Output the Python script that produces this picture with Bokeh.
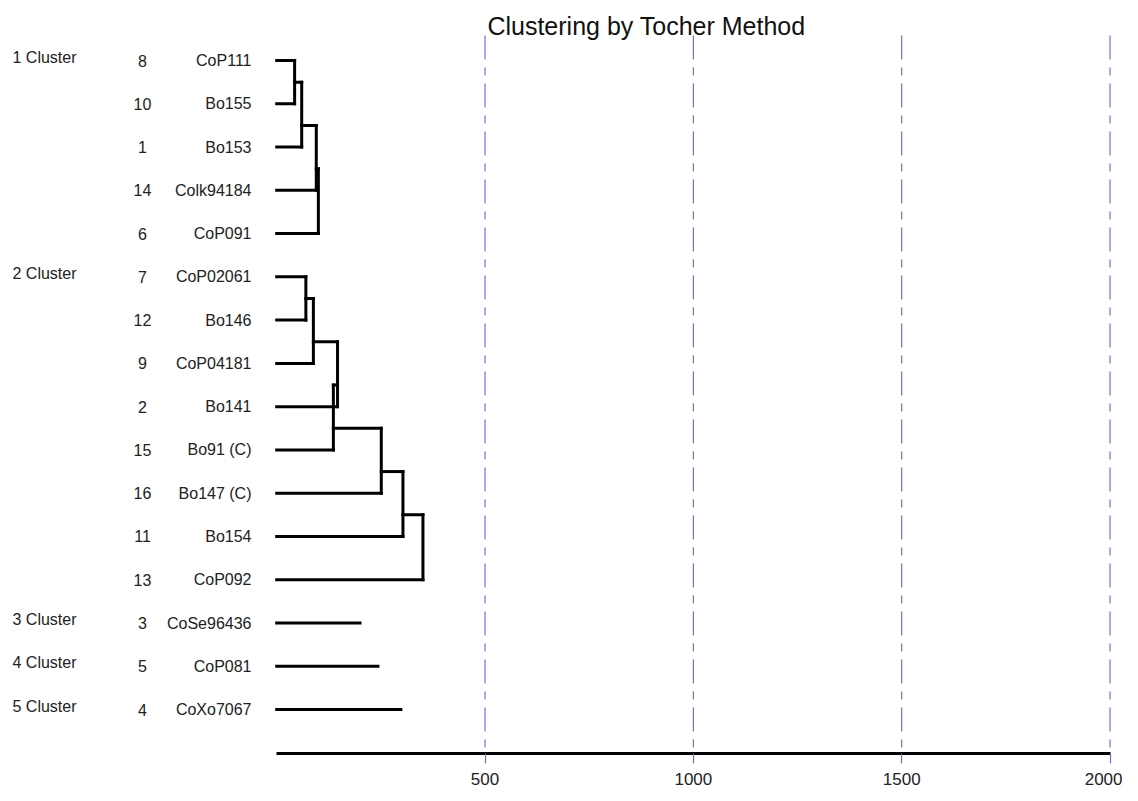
from bokeh.plotting import figure
from bokeh.models import Range1d, LinearAxis, FixedTicker, ColumnDataSource
from bokeh.core.properties import value
from bokeh.embed import file_html
from bokeh.resources import INLINE

# ---------------- data ----------------
leaf_ids = [8, 10, 1, 14, 6, 7, 12, 9, 2, 15, 16, 11, 13, 3, 5, 4]
leaf_names = ["CoP111", "Bo155", "Bo153", "Colk94184", "CoP091",
              "CoP02061", "Bo146", "CoP04181", "Bo141", "Bo91 (C)",
              "Bo147 (C)", "Bo154", "CoP092", "CoSe96436", "CoP081", "CoXo7067"]
cluster_labels = ["1 Cluster", "2 Cluster", "3 Cluster", "4 Cluster", "5 Cluster"]
cluster_sizes = [5, 8, 1, 1, 1]
cluster1_heights = [43, 60, 95, 100]
cluster2_heights = [70, 88, 146, 136, 251, 303, 351]
singleton_lengths = [200, 243, 298]
x_ticks = [500, 1000, 1500, 2000]
title_text = "Clustering by Tocher Method"

# ---------------- layout constants ----------------
FONT = "Liberation Sans"
W = 1122
FRAME_H = 753
PX = 0.416667          # pixels per distance unit
X0PX = 276.2           # frame pixel of distance 0
ROW1_PX = 60.0
ROW_STEP = 43.27
def px2val(px):
    return (px - X0PX) / PX
def py2row(py):
    return 1 + (py - ROW1_PX) / ROW_STEP

# ---------------- dendrogram segments ----------------
merge_heights = [cluster1_heights, cluster2_heights, [], [], []]
x0s, y0s, x1s, y1s = [], [], [], []
def seg(a, b, c, d):
    x0s.append(a); y0s.append(b); x1s.append(c); y1s.append(d)

start = 1
si = 0
cluster_rows = []
for size, hs in zip(cluster_sizes, merge_heights):
    rows = list(range(start, start + size))
    cluster_rows.append(rows[0])
    if size == 1:
        seg(0, rows[0], singleton_lengths[si], rows[0])
        si += 1
    else:
        seg(0, rows[0], hs[0], rows[0])
        for k in range(1, size):
            h = hs[k - 1]
            seg(0, rows[k], h, rows[k])
            if k == 1:
                top = rows[0]
            else:
                top = (rows[k - 2] + rows[k - 1]) / 2
                seg(hs[k - 2], top, h, top)
            seg(h, top, h, rows[k])
    start += size

rows_all = list(range(1, len(leaf_ids) + 1))

# ---------------- figure ----------------
p = figure(frame_width=W, frame_height=FRAME_H,
           x_range=Range1d(px2val(0), px2val(W)),
           y_range=Range1d(py2row(FRAME_H), py2row(0)),
           x_axis_type=None, y_axis_type=None,
           output_backend="svg", toolbar_location=None,
           min_border_left=0, min_border_right=0, min_border_top=0,
           min_border_bottom=0)
p.outline_line_color = None
p.background_fill_color = "white"
p.border_fill_color = "white"

BLUE = "#6262e8"
# blue dash-dot reference lines
p.segment(x0=x_ticks, y0=[py2row(35)] * len(x_ticks), x1=x_ticks,
          y1=[py2row(FRAME_H)] * len(x_ticks),
          line_color=BLUE, line_width=1.1, line_dash="24 8 8 8")

# dendrogram
p.segment(x0=x0s, y0=y0s, x1=x1s, y1=y1s, line_color="black", line_width=3,
          line_cap="square")

# bottom axis
ax = LinearAxis(ticker=FixedTicker(ticks=x_ticks), bounds=(0, 2000))
ax.axis_line_width = 3
ax.axis_line_color = "black"
ax.major_tick_line_color = BLUE
ax.major_tick_line_width = 1.1
ax.major_tick_out = 10
ax.major_tick_in = 0
ax.minor_tick_line_color = None
ax.major_label_standoff = 9
ax.major_label_text_font = FONT
ax.major_label_text_font_size = "17px"
ax.major_label_text_color = "#222222"
p.add_layout(ax, "below")

# labels
lab_src = ColumnDataSource(dict(row=rows_all, ids=[str(i) for i in leaf_ids],
                                names=leaf_names))
p.text(x=px2val(251), y="row", text="names", source=lab_src,
       text_font=value(FONT), text_font_size="16px", text_align="right",
       text_baseline="middle", text_color="#222222")
p.text(x=px2val(142), y="row", text="ids", source=lab_src,
       text_font=value(FONT), text_font_size="16px", text_align="center",
       text_baseline="middle", text_color="#222222")
cl_src = ColumnDataSource(dict(row=[r - 0.08 for r in cluster_rows], text=cluster_labels))
p.text(x=px2val(12), y="row", text="text", source=cl_src,
       text_font=value(FONT), text_font_size="16px", text_align="left",
       text_baseline="middle", text_color="#222222")

# title
p.text(x=[px2val(646)], y=[py2row(25)], text=[title_text],
       text_font=value(FONT), text_font_size="25px", text_align="center",
       text_baseline="middle", text_color="#111111")

open("out.html", "w").write(file_html(p, INLINE))
